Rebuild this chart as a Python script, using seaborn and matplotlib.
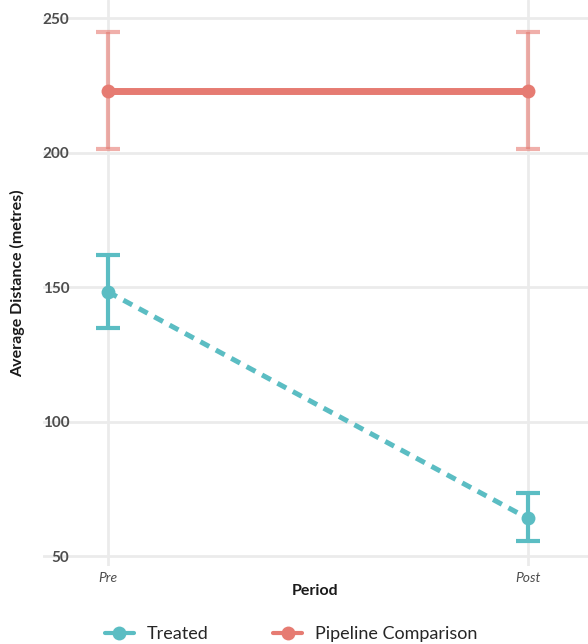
import numpy as np
import pandas as pd
import seaborn as sns
import matplotlib
matplotlib.use("Agg")
import matplotlib.pyplot as plt
from matplotlib.lines import Line2D

# data
periods = ["Pre", "Post"]
groups = ["Treated", "Pipeline Comparison"]
treated_mean = [148.2, 64.0]
treated_lo = [134.8, 55.6]
treated_hi = [161.9, 73.4]
pipeline_mean = [222.9, 222.9]
pipeline_lo = [201.3, 201.3]
pipeline_hi = [244.8, 244.8]

df = pd.DataFrame({
    "period": periods * 2,
    "group": [groups[0]] * 2 + [groups[1]] * 2,
    "mean": treated_mean + pipeline_mean,
    "lo": treated_lo + pipeline_lo,
    "hi": treated_hi + pipeline_hi,
})

colors = {"Treated": "#5BBDC3", "Pipeline Comparison": "#E67B72"}
bar_alpha = {"Treated": 1.0, "Pipeline Comparison": 0.6}
line_w = {"Treated": 3.6, "Pipeline Comparison": 5.0}

sns.set_theme(style="white")
plt.rcParams["font.family"] = ["Lato", "DejaVu Sans"]

fig = plt.figure(figsize=(5.88, 6.44), dpi=100)
ax = fig.add_axes([43 / 588, 1 - 566 / 644, 1 - 43 / 588, 566 / 644])

# error bars first, points and lines on top
for g in groups:
    sub = df[df["group"] == g]
    xs = [periods.index(p) for p in sub["period"]]
    ax.errorbar(xs, sub["mean"],
                yerr=[sub["mean"] - sub["lo"], sub["hi"] - sub["mean"]],
                fmt="none", ecolor=colors[g], alpha=bar_alpha[g],
                elinewidth=3, capsize=8.5, capthick=3, zorder=2)

for g in groups:
    sub = df[df["group"] == g]
    sns.lineplot(data=sub, x="period", y="mean", color=colors[g],
                 linewidth=line_w[g], marker="o", markersize=10,
                 markeredgewidth=0, linestyle="--" if g == "Treated" else "-",
                 ax=ax, zorder=3, legend=False)
for ln in ax.lines:
    if ln.get_linestyle() == "--":
        ln.set_dashes([2.0, 1.5])

ax.set_xlim(-65 / 420, 1 + 60 / 420)
ax.set_ylim(46.3, 256.7)
ax.set_yticks([50, 100, 150, 200, 250])
ax.set_xticks([0, 1])
ax.set_xticklabels(periods, fontstyle="italic", color="#4D4D4D", fontsize=10)
ax.tick_params(axis="y", labelsize=11, labelcolor="#4D4D4D", pad=-19, length=0)
ax.tick_params(axis="x", pad=4, length=0)
for t in ax.get_yticklabels():
    t.set_fontweight("bold")

ax.grid(True, color="#EBEBEB", linewidth=2)
ax.set_axisbelow(True)
for s in ax.spines.values():
    s.set_visible(False)

ax.set_xlabel("Period", fontsize=11.5, fontweight="bold", color="#1A1A1A", labelpad=0)
ax.set_ylabel("Average Distance (metres)", fontsize=11.5, fontweight="bold",
              color="#1A1A1A", labelpad=4)
ax.yaxis.set_label_coords(-18 / 545, 0.5)

handles = [Line2D([0], [0], color=colors[g], linewidth=3, marker="o",
                  markersize=10, markeredgewidth=0) for g in groups]
fig.legend(handles, groups, loc="center", bbox_to_anchor=(291 / 588, 1 - 634 / 644),
           ncol=2, frameon=False, fontsize=13, handlelength=1.6,
           columnspacing=3.6, handletextpad=0.7)

fig.savefig("out.png", dpi=100)
